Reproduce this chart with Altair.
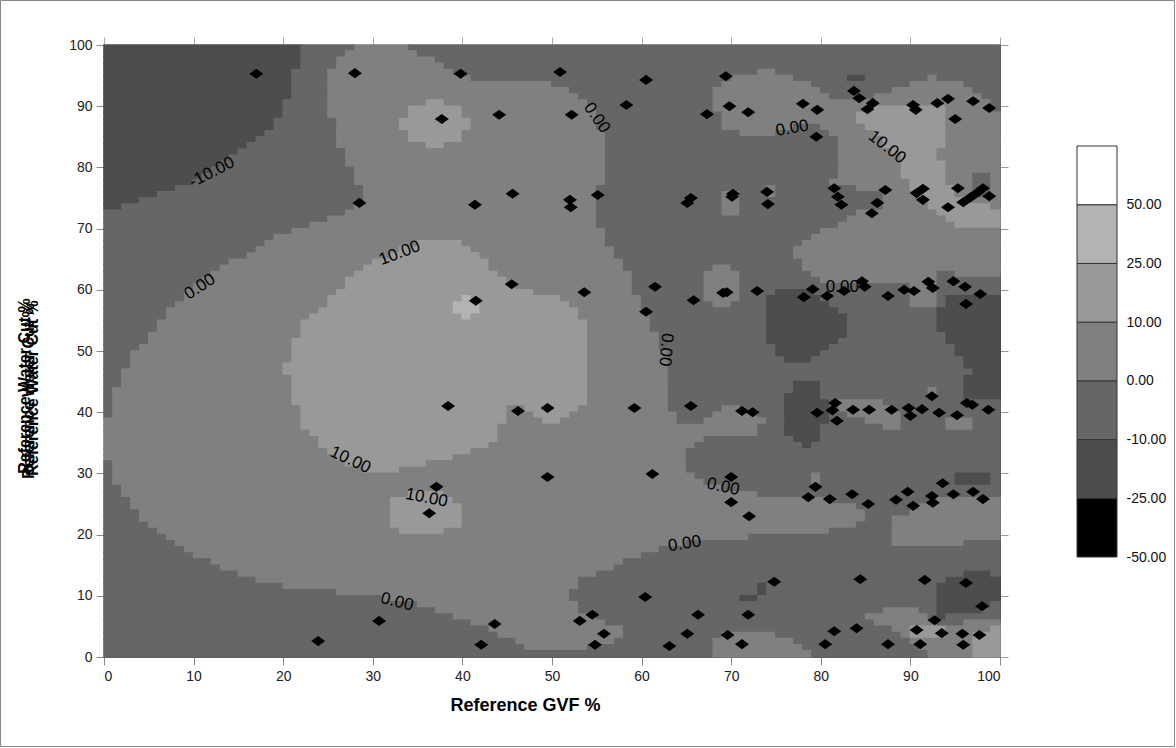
import re
import pandas as pd
import altair as alt

# Contour levels on a 1 x 1 grid (rows from WC 100 down to 0),
# run-length coded: A = -25..-10, B = -10..0, C = 0..10, D = 10..25, E = 25..50
ROWS = [
"A22B6C6B66", "A22B5C8B65", "A22B4C11B63", "A22B4C12B62", "A21B4C14B34C2B25",
"A21B4C16B29C7B6A2B7C1B7", "A21B4C25B19C10B11C6B4", "A21B4C27B16C12B8C9B3", "A21B4C28B15C13B5C12B2",
"A20B5C11D2C16B14C31B1", "A20B5C9D6C15B13C17D9C5B1", "A20B5C9D6C15B14C15D10C6", "A19B7C7D8C14B14C15D10C6",
"A19B7C7D8C14B14C8B3C5D9C6", "A18B8C8D6C16B15C4B6C5D8C6", "A17B9C8D6C16B26C5D7C6", "A16B10C10D2C18B26C5D7C6",
"A15B12C29B26C6D5C7", "A14B13C29B26C7D4C7", "A13B14C29B26C7D5C6", "A12B16C28B26C7D5C6",
"A11B17C28B26C7D5C3B2C1", "A10B18C28B25C9D4C3B2C1", "A8B21C26B19C1B9C6D5C2B2C1",
"A6B23C26B14C2B3C1B12C4D4C2B2C1", "A4B25C26B14C2B16C5D5C3", "A2B26C27B14C2B16C5D7C1", "B27C28B14C2B13C9D7",
"B25C30B28C11D6", "B23C32B27C13D5", "B21C35B24C20", "B19C37B23C21", "B18C17D5C16B22C22", "B17C16D8C16B20C23",
"B16C16D10C15B20C23", "B14C16D13C15B20C22", "B13C16D14C15B10C2B8C22", "B12C16D16C15B8C4B8C14B2C5",
"B11C16D18C14B8C4B9C13B7", "B10C17D19C13B8C4B19C3B7", "B9C17D22C11B8C4B4A4B11C3B7",
"B9C16D15E1D10C9B7C4B3A6B10C3B1A6", "B8C17D14E3D10C8B8C2B4A7B9C3B1A6", "B7C17D15E3D11C7B14A8B11A7",
"B7C16D17E1D12C8B13A9B10A7", "B6C16D32C7B13A9B10A7", "B6C16D32C7B13A9B10A7", "B5C17D32C8B12A9B11A6",
"B5C16D33C8B12A8B12A6", "B4C17D33C8B13A6B14A5", "B3C18D33C9B12A5B15A5", "B3C18D33C9B13A3B17A4",
"B3C17D34C9B33A4", "B2C18D34C9B34A3", "B2C19D33C9B33A4", "B2C19D33C9B14A3B16A4", "B1C20D33C9B14A3B12C1B3A4",
"B1C20D33C9B13A4B12C1B3A4", "B1C20D33C9B13A5B1C5B13", "B1C21D23C2D6C10B6C2B5A5B1C6B12",
"B1C21D23C3D4C12B4C5B3A5B2C6B11", "C22D23C4D2C13B3C7B2A5B4C4B5C3B3", "C22D22C29B3A4B7C2B5C3B3",
"C23D21C29B3A4B20", "C24D20C23B10A3B20", "C24D19C23B12A1B21", "C25D16C24B35", "C26D13C26B35",
"B1C26D9C29B35", "B1C28D4C32B35", "B1C65B13C1B15A4B1", "B1C66B12C1B15A4B1", "B2C67B31", "B2C32D4C35B27",
"B3C29D7C42B12C7", "B3C29D8C44B7C9", "B4C28D8C45B5C10", "B4C28D8C45B3C12", "B5C27D8C44B4C12",
"B6C27D5C43B7C12", "B7C65B16C12", "B8C57B23C8B4", "B9C53B38", "B10C50B40", "B12C46B42", "B13C44B43",
"B15C40B41A3B1", "B17C36B41A6", "B20C33B20A1B19A7", "B26C26B21A1B19A7", "B31C21B19A2B20A7",
"B35C18B40A6B1", "B37C16B34C4B2A5B2", "B39C16B30C7B1A1B6", "B41C15B30C7B3C4", "B43C15B30C2D4C5D1",
"B44C14B11C6B14C1D4C3D3", "B46C11B11C9B13C7D3", "B47C7B14C10B13C6D3", "B68C11B13C5D3",
]

gvf = [17,28,39.8,50.9,60.5,69.4,
       37.7,44.1,52.2,58.3,67.3,69.8,71.9,78,79.6,79.5,83.7,84.3,85.2,85.8,90.3,90.6,93,94.2,97,98.8,95,
       28.5,41.4,45.6,52,52.1,55.1,65.1,65.5,70.1,70.2,74,74.1,81.5,81.9,82.3,85.7,86.3,87.2,90.7,91.4,91.4,94.2,95.3,95.9,96.7,97.5,98.1,98.8,
       41.5,45.5,53.6,60.5,61.5,65.8,69.1,69.5,72.9,78.1,79.1,80.7,82.6,84.6,84.9,87.5,89.3,90.4,92,92.5,94.8,96.1,97.8,96.2,
       38.4,46.2,49.5,59.2,65.5,71.2,72.4,79.6,81.6,81.3,81.8,83.6,85.4,87.9,89.8,90,91.3,92.4,93.2,95.2,96.3,96.9,98.7,
       37.1,36.3,49.5,61.2,70,70,72,79.4,78.6,81,83.5,85.3,88.4,89.7,90.3,92.4,92.5,93.6,94.8,97,98.1,
       23.9,30.7,42.1,43.6,53.1,54.5,54.8,55.8,60.4,63.1,65.1,66.3,69.6,71.2,71.9,74.8,80.5,81.5,84,84.4,87.5,90.7,91.1,91.6,92.7,93.5,95.8,95.9,96.2,97.7,98]
wcut = [95.3,95.4,95.3,95.6,94.3,94.9,
        87.9,88.6,88.6,90.2,88.7,90,89,90.4,89.4,85,92.5,91.3,89.5,90.5,90.2,89.4,90.5,91.2,90.8,89.7,87.9,
        74.2,73.9,75.7,74.7,73.5,75.5,74.2,75,75.2,75.7,76,74,76.6,75.2,73.9,72.5,74.2,76.3,75.8,76.5,74.7,73.5,76.6,74.3,75.1,75.9,76.6,75.3,
        58.2,60.9,59.6,56.4,60.5,58.3,59.5,59.6,59.8,58.8,60.1,59,59.8,61.4,60.5,59,60,59.8,61.3,60.3,61.4,60.5,59.3,57.7,
        41,40.2,40.7,40.7,41,40.2,40,39.9,41.5,40.3,38.6,40.4,40.4,40.4,40.7,39.4,40.5,42.6,39.9,39.5,41.5,41.2,40.4,
        27.8,23.5,29.4,29.9,29.4,25.3,23,27.8,26.1,25.8,26.6,25,25.7,27,24.7,26.3,25.2,28.4,26.6,27,25.8,
        2.6,5.9,2,5.4,5.9,6.9,2,3.8,9.8,1.8,3.8,6.9,3.6,2.1,6.9,12.3,2.1,4.2,4.7,12.7,2.1,4.4,2.1,12.6,6,3.9,3.8,2,12.1,3.6,8.3]

lab_text = ['-10.00','0.00','10.00','0.00','0.00','10.00','0.00','0.00','0.00','10.00','10.00','0.00','0.00']
lab_x = [12.05,10.7,33.0,55.0,76.8,87.4,62.7,82.4,69.1,27.5,36.0,32.7,64.8]
lab_y = [79.2,60.5,66.0,88.1,86.4,83.3,50.2,60.5,27.8,32.2,26.0,9.0,18.5]
lab_angle = [333,327,339,55,350,38,95,0,12,25,11,14,351]

level_bounds = [-25, -10, 0, 10, 25, 50]
level_colors = ['#000000', '#4d4d4d', '#666666', '#808080', '#999999', '#b3b3b3', '#ffffff']
legend_labels = ['-50.00', '-25.00', '-10.00', '0.00', '10.00', '25.00', '50.00']
code_value = {'A': -15, 'B': -5, 'C': 5, 'D': 15, 'E': 35}
y_title = 'Reference Water Cut %'

recs = []
for r, s in enumerate(ROWS):
    x = 0
    for m in re.finditer(r'([A-E])(\d+)', s):
        n = int(m.group(2))
        recs.append(dict(x0=x, x1=x + n, y0=99 - r, y1=100 - r, v=code_value[m.group(1)]))
        x += n
cells = pd.DataFrame(recs)
pts = pd.DataFrame({'gvf': gvf, 'wc': wcut})
labs = pd.DataFrame({'t': lab_text, 'lx': lab_x, 'ly': lab_y, 'a': lab_angle})

FONT = 'Liberation Sans'
xsc = alt.Scale(domain=[0, 100], nice=False, zero=False)
ysc = alt.Scale(domain=[0, 100], nice=False, zero=False)
csc = alt.Scale(type='threshold', domain=level_bounds, range=level_colors)
ticks = list(range(0, 101, 10))

grid = alt.Chart(cells).mark_rect(strokeWidth=1.6).encode(
    x=alt.X('x0:Q', scale=xsc, axis=alt.Axis(orient='bottom', values=ticks, grid=False, tickSize=8,
            tickColor='#888', domainColor='#444', labelFont=FONT, labelFontSize=14, labelColor='#222',
            labelPadding=4, title='Reference GVF %', titleFont=FONT, titleFontSize=18, titleFontWeight='bold',
            titleColor='#000', titleX=421, titleY=48, titleBaseline='middle')),
    x2='x1:Q',
    y=alt.Y('y0:Q', scale=ysc, axis=alt.Axis(orient='left', values=ticks, grid=False, tickSize=8,
            tickColor='#888', domainColor='#444', labelFont=FONT, labelFontSize=14, labelColor='#222',
            labelPadding=4, title=None)),
    y2='y1:Q',
    color=alt.Color('v:Q', scale=csc, legend=None),
    stroke=alt.Stroke('v:Q', scale=csc, legend=None),
)

points = alt.Chart(pts).mark_point(shape='M-1,0L0,-0.72L1,0L0,0.72Z', filled=True, size=196,
                                   color='black', opacity=1).encode(
    x=alt.X('gvf:Q', scale=xsc, axis=alt.Axis(orient='top', values=ticks, labels=False, grid=False,
            tickSize=8, tickColor='#aaa', domainColor='#aaa', title=None)),
    y=alt.Y('wc:Q', scale=ysc, axis=alt.Axis(orient='right', values=ticks, labels=False, grid=False,
            tickSize=8, tickColor='#999', domainColor='#333', title=None)),
)

labels = alt.Chart(labs).mark_text(font=FONT, fontSize=17, color='black').encode(
    x=alt.X('lx:Q', scale=xsc, axis=None),
    y=alt.Y('ly:Q', scale=ysc, axis=None),
    text='t:N',
    angle=alt.Angle('a:Q', scale=None),
)

one = pd.DataFrame({'k': [0]})
def ytitle(dx, dy):
    return alt.Chart(one).mark_text(text=y_title, font=FONT, fontSize=16, fontWeight='bold',
                                    angle=270, color='black').encode(x=alt.value(dx), y=alt.value(dy))
border = alt.Chart(one).mark_rect(fill='transparent', stroke='#888', strokeWidth=1).encode(
    x=alt.value(-103.5), x2=alt.value(1070.5), y=alt.value(-44.5), y2=alt.value(701.5))

main = alt.layer(grid, points, labels, ytitle(-79, 341), ytitle(-75, 346), ytitle(-71, 343), border).resolve_axis(
    x='independent', y='independent').properties(width=896, height=612)

leg_df = pd.DataFrame({'i0': list(range(7)), 'i1': list(range(1, 8)), 'c': level_colors})
label_expr = '[' + ','.join("'%s'" % s for s in legend_labels) + '][datum.value]'
legend = alt.Chart(leg_df).mark_rect(stroke='#333', strokeWidth=1).encode(
    x=alt.value(0), x2=alt.value(40),
    y=alt.Y('i0:Q', scale=alt.Scale(domain=[-1.703, 8.720], nice=False, zero=False),
            axis=alt.Axis(orient='right', values=list(range(7)), labelExpr=label_expr, ticks=False,
                          domain=False, grid=False, labelFont=FONT, labelFontSize=14, labelColor='#111',
                          labelPadding=9, title=None)),
    y2='i1:Q',
    fill=alt.Fill('c:N', scale=None),
).properties(width=40, height=612)

chart = alt.hconcat(main, legend, spacing=77, bounds='flush').properties(padding=0).configure_view(stroke=None)
chart.save("out.html", embed_options={"renderer": "svg", "actions": False})
